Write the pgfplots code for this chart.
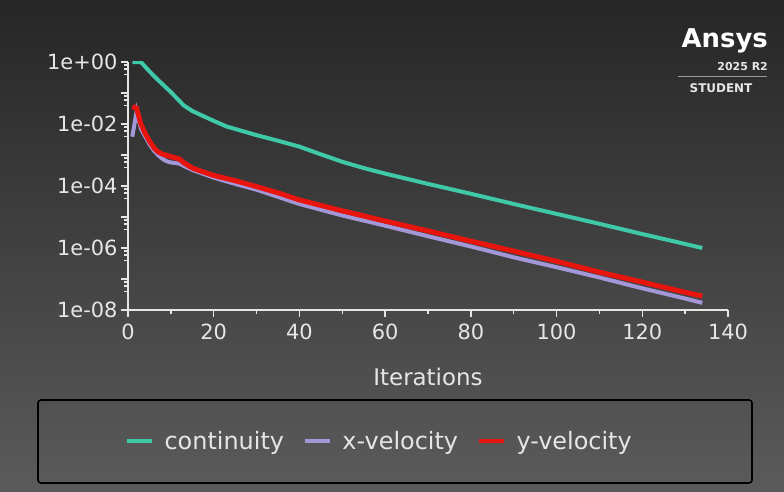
\documentclass[border=0pt]{standalone}
\usepackage{pgfplots}
\pgfplotsset{compat=1.18}
\usepackage{fontspec}
\setmainfont{DejaVu Sans}
\definecolor{bgtop}{HTML}{262626}
\definecolor{bgbot}{HTML}{5B5B5B}
\definecolor{fg}{HTML}{E6E6E6}
\definecolor{cont}{HTML}{3FC9A8}
\definecolor{xvel}{HTML}{A397D8}
\definecolor{yvel}{HTML}{E8140E}
\begin{document}
\begin{tikzpicture}
\shade[top color=bgtop,bottom color=bgbot] (0,0) rectangle (784bp,492bp);
\useasboundingbox (0,0) rectangle (784bp,492bp);
\draw[black, line width=1.6bp, rounded corners=3bp] (38bp,9bp) rectangle (752bp,92bp);
% logo
\node[anchor=base east, text=white, inner sep=0pt, font=\bfseries\fontsize{26}{26}\selectfont] at (768bp,444bp) {Ansys};
\node[anchor=base east, text=fg, inner sep=0pt, font=\bfseries\fontsize{11}{11}\selectfont] at (768bp,421bp) {2025 R2};
\draw[gray!80, line width=1.5bp] (678bp,415.5bp) -- (767bp,415.5bp);
\node[anchor=base, text=fg, inner sep=0pt, font=\bfseries\fontsize{12}{12}\selectfont] at (721bp,399bp) {STUDENT};
\begin{axis}[
  at={(128bp,182bp)}, anchor=south west,
  scale only axis, width=600bp, height=248bp,
  xmin=0, xmax=140, ymin=1e-8, ymax=1,
  ymode=log,
  axis lines=left,
  axis line style={draw=fg, line width=1.8bp, -},
  every tick/.style={draw=fg, line width=1.5bp},
  tick align=outside,
  major tick length=7bp, minor tick length=4bp,
  xtick={0,20,...,140}, minor xtick={10,30,...,130},
  ytick={1e-8,1e-7,1e-6,1e-5,1e-4,1e-3,1e-2,1e-1,1},
  yticklabels={1e-08,,1e-06,,1e-04,,1e-02,,1e+00},
  minor ytick={8e-1,6e-1,4e-1,8e-2,6e-2,4e-2,8e-3,6e-3,4e-3,8e-4,6e-4,4e-4,8e-5,6e-5,4e-5,8e-6,6e-6,4e-6,8e-7,6e-7,4e-7,8e-8,6e-8,4e-8},
  /pgf/number format/assume math mode=true,
  tick label style={text=fg, font=\fontsize{21}{21}\selectfont},
  xticklabel style={yshift=-3bp},
  xlabel={Iterations},
  xlabel style={text=fg, font=\fontsize{23}{23}\selectfont, at={(axis description cs:0.5,-0.27)}, anchor=center},
  legend columns=3,
  legend style={at={(axis description cs:0.419,-0.528)}, anchor=center, draw=none, fill=none,
    text=fg, font=\fontsize{24}{24}\selectfont,
    /tikz/every odd column/.append style={column sep=8bp},
    /tikz/every even column/.append style={column sep=17bp}},
  legend image code/.code={\draw[#1, line width=4.5bp] (0bp,0bp) -- (25bp,0bp);},
]
\addplot[cont, line width=4bp] coordinates {
(1,1) (3,1) (5,0.5) (7,0.263) (10,0.107) (13,0.0398) (15,0.0263) (17,0.0195) (20,0.0126)
(23,0.00832) (26,0.00631) (30,0.00437) (35,0.00288) (40,0.00186) (45,0.00105) (50,6.03e-4)
(55,3.8e-4) (60,2.51e-4) (70,1.17e-4) (80,5.62e-5) (90,2.63e-5) (100,1.26e-5) (110,6.03e-6)
(120,2.82e-6) (130,1.35e-6) (134,1.0e-6)};
\addlegendentry{continuity}
\addplot[xvel, line width=4bp] coordinates {
(1,3.89e-3) (2,0.0251) (3,7.08e-3) (4,3.98e-3) (5,2.24e-3) (6,1.41e-3) (7,1.0e-3) (8,7.59e-4)
(9,6.31e-4) (10,5.75e-4) (12,5.25e-4) (13,4.47e-4) (15,3.31e-4) (17,2.63e-4) (20,1.86e-4)
(25,1.17e-4) (30,7.59e-5) (35,4.47e-5) (40,2.63e-5) (50,1.12e-5) (60,5.25e-6) (70,2.4e-6)
(80,1.12e-6) (90,5.01e-7) (100,2.4e-7) (110,1.12e-7) (120,5.01e-8) (130,2.34e-8) (134,1.7e-8)};
\addlegendentry{x-velocity}
\addplot[yvel, line width=5bp] coordinates {
(1,0.0363) (2,0.0324) (3,0.01) (4,0.005) (5,2.82e-3) (6,1.74e-3) (7,1.26e-3) (8,1.07e-3)
(10,8.91e-4) (12,7.41e-4) (13,5.62e-4) (15,3.8e-4) (17,3.02e-4) (20,2.19e-4) (25,1.48e-4)
(30,9.55e-5) (35,6.03e-5) (40,3.55e-5) (50,1.58e-5) (60,7.41e-6) (70,3.55e-6) (80,1.66e-6)
(90,7.94e-7) (100,3.72e-7) (110,1.66e-7) (120,7.94e-8) (130,3.72e-8) (134,2.82e-8)};
\addlegendentry{y-velocity}
\end{axis}
\end{tikzpicture}
\end{document}
